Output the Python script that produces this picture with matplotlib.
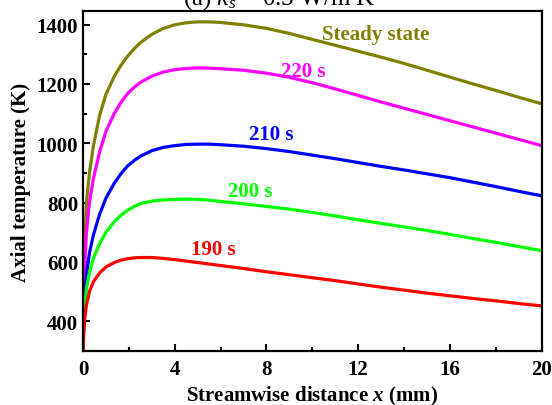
import matplotlib.pyplot as plt
from matplotlib.ticker import MultipleLocator

plt.rcParams['font.family'] = ['Liberation Serif', 'DejaVu Serif']
plt.rcParams['font.weight'] = 'bold'
plt.rcParams['mathtext.fontset'] = 'custom'
plt.rcParams['mathtext.rm'] = 'Liberation Serif:normal'
plt.rcParams['mathtext.it'] = 'Liberation Serif:italic:normal'
plt.rcParams['mathtext.bf'] = 'Liberation Serif:italic:bold'

# streamwise distance (mm)
x = [0, 0.03, 0.07, 0.15, 0.28, 0.45, 0.72, 1.0, 1.36, 1.65, 1.94, 2.25, 2.52,
     3, 3.5, 4, 4.5, 5, 5.5,
     6, 7, 8, 9, 10, 11, 12, 13, 14, 15, 16, 17, 18, 19, 20]

# axial temperature (K)
T_steady = [300, 500, 665, 800, 900, 990, 1093, 1165, 1225, 1262, 1293, 1320, 1340,
            1367, 1387, 1399, 1406, 1409, 1409,
            1407, 1399, 1387, 1370, 1350, 1330, 1310, 1290, 1269, 1246, 1223, 1200, 1178, 1155, 1133]
T_220 = [300, 450, 580, 700, 800, 880, 970, 1040, 1100, 1137, 1167, 1190, 1206,
         1226, 1240, 1248, 1252, 1254, 1253,
         1251, 1246, 1236, 1222, 1204, 1183, 1161, 1139, 1118, 1097, 1076, 1055, 1034, 1013, 992]
T_210 = [300, 400, 480, 560, 630, 690, 760, 815, 865, 897, 923, 943, 957,
         975, 986, 992, 996, 997, 997,
         995, 990, 982, 972, 960, 948, 935, 922, 910, 897, 884, 869, 854, 838, 823]
T_200 = [300, 380, 445, 510, 565, 612, 662, 700, 735, 757, 774, 788, 797,
         805, 809, 811, 812, 811, 808,
         804, 796, 787, 778, 767, 755, 742, 730, 718, 706, 693, 679, 666, 652, 638]
T_190 = [300, 355, 405, 455, 500, 533, 563, 583, 598, 606, 611, 614, 615,
         615, 612, 608, 603, 598, 593,
         588, 578, 567, 557, 547, 537, 526, 515, 505, 495, 486, 477, 469, 460, 452]

series = [
    (T_steady, '#808000', 'Steady state', 12.75, 1369),
    (T_220, '#ff00ff', '220 s', 9.6, 1245),
    (T_210, '#0000ff', '210 s', 8.2, 1031),
    (T_200, '#00ff00', '200 s', 7.3, 840),
    (T_190, '#ff0000', '190 s', 5.7, 644),
]

fig = plt.figure(figsize=(5.52, 4.06), dpi=100)
ax = fig.add_axes([0.1504, 0.133, 0.8309, 0.837])

for T, c, lab, lx, ly in series:
    ax.plot(x, T, color=c, lw=2.3, solid_joinstyle='round')
    ax.text(lx, ly, lab, color=c, fontsize=15, fontweight='bold',
            ha='center', va='center')

ax.set_xlim(0, 20)
ax.set_ylim(300, 1445)
ax.xaxis.set_major_locator(MultipleLocator(4))
ax.xaxis.set_minor_locator(MultipleLocator(2))
ax.yaxis.set_minor_locator(MultipleLocator(100))
ax.set_yticks([400, 600, 800, 1000, 1200, 1400])
ax.tick_params(which='both', direction='in', width=1.5, labelsize=15)
ax.tick_params(which='major', length=5)
ax.tick_params(which='minor', length=3)
ax.tick_params(axis='x', pad=6)
for s in ax.spines.values():
    s.set_linewidth(1.6)

ax.set_xlabel('Streamwise distance $\\mathbf{x}$ (mm)', fontsize=15, fontweight='bold', labelpad=3)
ax.set_ylabel('Axial temperature (K)', fontsize=15, fontweight='bold', labelpad=4)

fig.text(279 / 552, 1 - 5 / 406, '(a) $k_s$ = 0.5 W/m K', fontsize=18,
         fontweight='normal', ha='center', va='baseline')

fig.savefig('out.png', dpi=100)
